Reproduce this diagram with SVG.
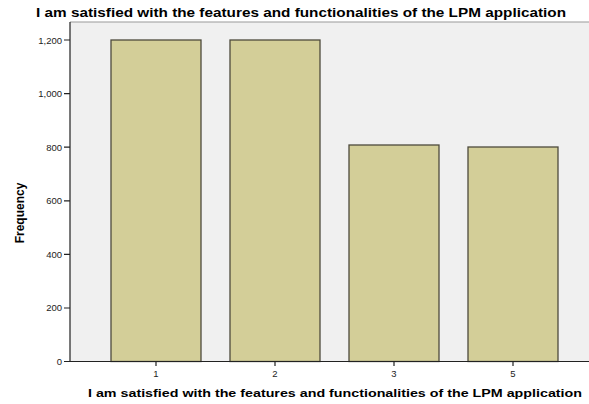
<svg xmlns="http://www.w3.org/2000/svg" width="589" height="404" viewBox="0 0 589 404">
<style>
.t{font-family:"Liberation Sans",Arial,sans-serif;fill:#000}
.tick{font-family:"Liberation Sans",Arial,sans-serif;font-size:9.5px;fill:#222}
.bar{fill:#D3CE98;stroke:#4d4a3c;stroke-width:1.3}
.ax{stroke:#222;stroke-width:1.2;fill:none}
</style>
<rect width="589" height="404" fill="#fff"/>
<text class="t" x="36" y="17" font-size="13.5" font-weight="bold" textLength="530" lengthAdjust="spacingAndGlyphs">I am satisfied with the features and functionalities of the LPM application</text>
<rect x="70" y="22" width="519" height="340" fill="#F0F0F0"/>
<line x1="70" y1="22" x2="589" y2="22" stroke="#999" stroke-width="1"/>
<g id="bars">
<g id="bar1"><rect class="bar" x="111" y="40" width="90" height="321.5"/></g>
<g id="bar2"><rect class="bar" x="230" y="40" width="90" height="321.5"/></g>
<g id="bar3"><rect class="bar" x="349" y="145" width="90" height="216.5"/></g>
<g id="bar4"><rect class="bar" x="468" y="147" width="90" height="214.5"/></g>
</g>
<g id="axes">
<path class="ax" d="M70 22 V361.5 H589"/>
<path class="ax" d="M64 40H70M64 93.6H70M64 147.2H70M64 200.8H70M64 254.4H70M64 308H70M64 361.5H70"/>
<path class="ax" d="M156 361.5V366M275 361.5V366M394 361.5V366M513 361.5V366"/>
</g>
<g id="ylabels" text-anchor="end">
<text class="tick" x="62" y="43.5">1,200</text>
<text class="tick" x="62" y="97">1,000</text>
<text class="tick" x="62" y="150.5">800</text>
<text class="tick" x="62" y="204">600</text>
<text class="tick" x="62" y="257.5">400</text>
<text class="tick" x="62" y="311">200</text>
<text class="tick" x="62" y="365">0</text>
</g>
<g id="xlabels" text-anchor="middle">
<text class="tick" x="156" y="377">1</text>
<text class="tick" x="275" y="377">2</text>
<text class="tick" x="394" y="377">3</text>
<text class="tick" x="513" y="377">5</text>
</g>
<text class="t" font-size="11.5" font-weight="bold" x="88" y="397" textLength="494" lengthAdjust="spacingAndGlyphs">I am satisfied with the features and functionalities of the LPM application</text>
<text class="t" font-size="12" font-weight="bold" text-anchor="middle" transform="translate(24,213) rotate(-90)">Frequency</text>
</svg>
